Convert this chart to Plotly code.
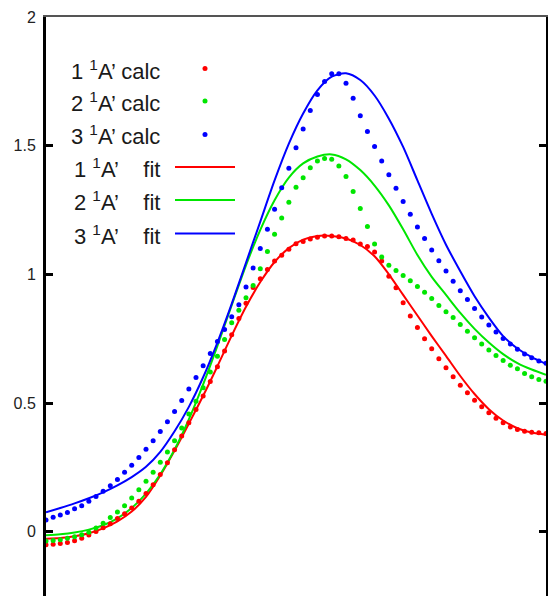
import plotly.graph_objects as go

# Sample index along the scan (71 computed points)
idx = list(range(71))
fit_idx = list(range(0, 71, 2))

calc_1A = [-0.051, -0.049, -0.046, -0.042, -0.035, -0.026, -0.013, 0.001, 0.015, 0.031,
           0.051, 0.070, 0.092, 0.118, 0.148, 0.182, 0.222, 0.268, 0.318, 0.372,
           0.423, 0.475, 0.527, 0.584, 0.641, 0.702, 0.765, 0.828, 0.888, 0.949,
           0.983, 1.019, 1.052, 1.074, 1.097, 1.119, 1.128, 1.137, 1.144, 1.149,
           1.149, 1.146, 1.139, 1.133, 1.118, 1.108, 1.087, 1.052, 0.993, 0.948,
           0.890, 0.838, 0.793, 0.750, 0.711, 0.672, 0.637, 0.602, 0.569, 0.540,
           0.511, 0.485, 0.462, 0.441, 0.423, 0.407, 0.397, 0.390, 0.386, 0.384,
           0.381]

calc_2A = [-0.036, -0.034, -0.031, -0.026, -0.020, -0.012, -0.002, 0.014, 0.033, 0.055,
           0.076, 0.101, 0.131, 0.163, 0.196, 0.231, 0.270, 0.310, 0.353, 0.403,
           0.457, 0.507, 0.559, 0.620, 0.682, 0.747, 0.812, 0.860, 0.909, 0.957,
           1.022, 1.089, 1.156, 1.219, 1.280, 1.338, 1.375, 1.414, 1.440, 1.450,
           1.447, 1.421, 1.380, 1.322, 1.256, 1.186, 1.118, 1.067, 1.035, 1.015,
           0.995, 0.975, 0.953, 0.930, 0.906, 0.879, 0.855, 0.832, 0.805, 0.779,
           0.754, 0.729, 0.706, 0.685, 0.665, 0.647, 0.633, 0.615, 0.602, 0.591,
           0.585]

calc_3A = [0.045, 0.056, 0.065, 0.074, 0.089, 0.101, 0.118, 0.137, 0.157, 0.178,
           0.203, 0.231, 0.258, 0.288, 0.320, 0.353, 0.389, 0.427, 0.467, 0.510,
           0.554, 0.599, 0.645, 0.692, 0.739, 0.786, 0.835, 0.882, 0.951, 1.025,
           1.100, 1.175, 1.253, 1.336, 1.412, 1.492, 1.565, 1.637, 1.699, 1.749,
           1.779, 1.779, 1.743, 1.684, 1.616, 1.555, 1.497, 1.440, 1.387, 1.335,
           1.283, 1.233, 1.184, 1.139, 1.095, 1.053, 1.013, 0.973, 0.936, 0.902,
           0.867, 0.834, 0.803, 0.776, 0.751, 0.729, 0.709, 0.690, 0.676, 0.663,
           0.654]

# Fitted curves, sampled at every second index
fit_1A = [-0.028, -0.025, -0.018, -0.006, 0.013, 0.040, 0.078, 0.135, 0.218, 0.315,
          0.420, 0.528, 0.643, 0.762, 0.874, 0.970, 1.048, 1.102, 1.135, 1.149,
          1.149, 1.139, 1.114, 1.070, 1.000, 0.920, 0.840, 0.760, 0.683, 0.605,
          0.535, 0.476, 0.432, 0.402, 0.385, 0.377]

fit_2A = [-0.014, -0.010, -0.003, 0.008, 0.025, 0.052, 0.092, 0.148, 0.223, 0.319,
          0.436, 0.572, 0.722, 0.880, 1.035, 1.173, 1.288, 1.376, 1.431, 1.458,
          1.466, 1.447, 1.405, 1.345, 1.268, 1.175, 1.075, 0.990, 0.920, 0.850,
          0.788, 0.735, 0.690, 0.655, 0.630, 0.610]

fit_3A = [0.075, 0.092, 0.110, 0.130, 0.153, 0.180, 0.212, 0.252, 0.310, 0.390,
          0.485, 0.600, 0.735, 0.885, 1.045, 1.205, 1.365, 1.508, 1.625, 1.715,
          1.768, 1.781, 1.755, 1.695, 1.605, 1.495, 1.365, 1.235, 1.115, 1.012,
          0.915, 0.832, 0.760, 0.712, 0.678, 0.652]

y_ticks = [0, 0.5, 1, 1.5, 2]
y_tick_text = ["0", "0.5", "1", "1.5", "2"]

RED, GREEN, BLUE = "#ff0000", "#00e600", "#0000ff"
series = [
    ("1 <sup>1</sup>A\u2019 calc", calc_1A, fit_1A, RED),
    ("2 <sup>1</sup>A\u2019 calc", calc_2A, fit_2A, GREEN),
    ("3 <sup>1</sup>A\u2019 calc", calc_3A, fit_3A, BLUE),
]
fit_names = [
    "1 <sup>1</sup>A\u2019\u00a0\u00a0\u00a0\u00a0fit",
    "2 <sup>1</sup>A\u2019\u00a0\u00a0\u00a0\u00a0fit",
    "3 <sup>1</sup>A\u2019\u00a0\u00a0\u00a0\u00a0fit",
]

W, H = 548, 596
ML, MR, MT, MB = 46, 2, 17, 0
PW, PH = W - ML - MR, H - MT - MB

fig = go.Figure()

for (name, calc, fit, col), fname in zip(series, fit_names):
    fig.add_trace(go.Scatter(
        x=fit_idx, y=fit, mode="lines", name=fname,
        line=dict(color=col, width=2, shape="spline", smoothing=0.8),
        showlegend=False))
for (name, calc, fit, col) in series:
    fig.add_trace(go.Scatter(
        x=idx, y=calc, mode="markers", name=name,
        marker=dict(color=col, size=5, line=dict(width=0)),
        showlegend=False))

# Key drawn at the upper left: label text right-aligned, sample to its right
def px_x(px):
    return (px - ML) / PW

def px_y(py):
    return (H - MB - py) / PH

key_rows = [68.5, 101.0, 134.5, 167.0, 200.0, 233.5]
key_text_right = 162
key_dot_x = 205
key_line = (175, 235)
font_key = dict(family="Liberation Sans, Arial, sans-serif", size=22, color="#1a1a1a")

annotations = []
shapes = []
entries = [(s[0], s[3], "dot") for s in series] + \
          [(fn, s[3], "line") for fn, s in zip(fit_names, series)]
for (label, col, kind), py in zip(entries, key_rows):
    annotations.append(dict(
        x=px_x(key_text_right), y=px_y(py + 1), xref="paper", yref="paper",
        text=label, showarrow=False, xanchor="right", yanchor="middle",
        font=font_key))
    if kind == "dot":
        r = 2.5
        shapes.append(dict(
            type="circle", xref="paper", yref="paper",
            x0=px_x(key_dot_x - r), x1=px_x(key_dot_x + r),
            y0=px_y(py + r), y1=px_y(py - r),
            fillcolor=col, line=dict(width=0)))
    else:
        shapes.append(dict(
            type="line", xref="paper", yref="paper",
            x0=px_x(key_line[0]), x1=px_x(key_line[1]),
            y0=px_y(py), y1=px_y(py),
            line=dict(color=col, width=2)))

fig.update_layout(
    width=W, height=H, autosize=False,
    margin=dict(l=ML, r=MR, t=MT, b=MB, pad=0),
    paper_bgcolor="white", plot_bgcolor="white",
    font=dict(family="Liberation Sans, Arial, sans-serif", size=16, color="#222"),
    xaxis=dict(range=[0, 70], side="top", showline=True, linecolor="#555",
               linewidth=2, showgrid=False, zeroline=False,
               showticklabels=False, ticks=""),
    yaxis=dict(range=[-0.25, 2], tickvals=y_ticks, ticktext=y_tick_text,
               showline=True, linecolor="black", linewidth=3, mirror="ticks",
               ticks="inside", ticklen=7, tickwidth=3, tickcolor="black",
               showgrid=False, zeroline=False, ticklabelstandoff=4,
               tickfont=dict(size=16, color="#222")),
    annotations=annotations, shapes=shapes,
    showlegend=False,
)

fig.write_html("out.html")
